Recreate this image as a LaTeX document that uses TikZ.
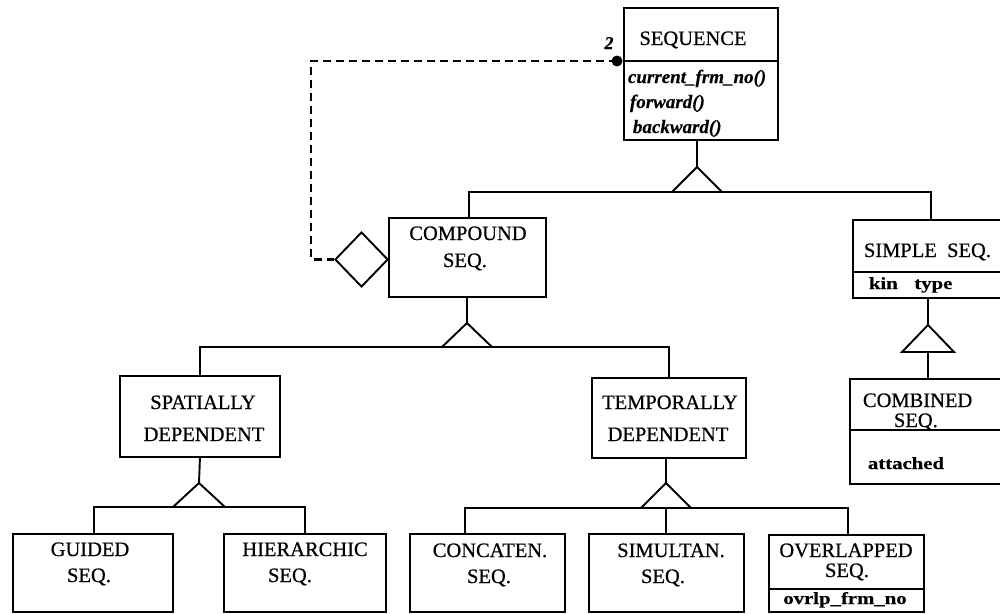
\documentclass[tikz,border=0pt]{standalone}
\usepackage{fontspec}
\setmainfont{Liberation Serif}
\newfontface\inkrm{Liberation Serif}[FakeBold=0.6]
\newfontface\inkbf{Liberation Serif Bold}[FakeBold=0.4]
\newfontface\inkbi{Liberation Serif Bold Italic}[FakeBold=0.3]
\newcommand\widetext[1]{\scalebox{1.22}[1]{#1}}
\usetikzlibrary{shapes.geometric}
\begin{document}
\begin{tikzpicture}[x=1pt,y=-1pt,line width=1.9pt,line join=miter,
  box/.style={draw,rectangle,inner sep=0pt,anchor=north west},
  lbl/.style={font=\fontsize{20.5}{24}\inkrm,inner sep=0pt,anchor=base},
  lblw/.style={lbl,anchor=base west},
  meth/.style={font=\fontsize{19}{22}\inkbi,inner sep=0pt,anchor=base west},
  attr/.style={font=\fontsize{17}{20}\inkbf,inner sep=0pt},
  dashline/.style={line width=2.6pt,dash pattern=on 8pt off 5pt},
  isa/.style={line join=miter}]
\useasboundingbox (0,0) rectangle (1000,613);
\clip (0,0) rectangle (1000,613);

% class boxes
\node[box,minimum width=154pt,minimum height=132pt] (seq)    at (623,7)   {};
\node[box,minimum width=157pt,minimum height=79pt]  (comp)   at (388,217) {};
\node[box,minimum width=158pt,minimum height=78pt]  (simple) at (852,219) {};
\node[box,minimum width=158pt,minimum height=105pt] (comb)   at (849,378) {};
\node[box,minimum width=160pt,minimum height=81pt]  (spat)   at (119,375) {};
\node[box,minimum width=154pt,minimum height=80pt]  (temp)   at (591,377) {};
\node[box,minimum width=160pt,minimum height=78pt]  (guided) at (12,533)  {};
\node[box,minimum width=162pt,minimum height=78pt]  (hier)   at (223,533) {};
\node[box,minimum width=155pt,minimum height=78pt]  (conc)   at (409,533) {};
\node[box,minimum width=155pt,minimum height=78pt]  (simu)   at (588,533) {};
\node[box,minimum width=155pt,minimum height=77pt]  (over)   at (768,534) {};

% compartment separators
\draw (seq.west |- 0,61)     -- (seq.east |- 0,61);
\draw (simple.west |- 0,272) -- (simple.east |- 0,272);
\draw (comb.west |- 0,430)   -- (comb.east |- 0,430);
\draw (over.west |- 0,589)   -- (over.east |- 0,589);

% texts
\node[lbl] at (693,45) {SEQUENCE};
\node[meth] at (627,83)  {current\_frm\_no()};
\node[meth] at (629,108) {forward()};
\node[meth] at (632,133) {backward()};

\node[lbl] at (468,240) {COMPOUND};
\node[lbl] at (465,267) {SEQ.};

\node[lblw] at (863,257) {SIMPLE\hspace{0.5em}SEQ.};
\node[attr,anchor=base west] at (868,289) {\widetext{kin\hspace{0.8em}type}};

\node[lblw] at (862,407) {COMBINED};
\node[lblw] at (893,427) {SEQ.};
\node[attr,anchor=base west] at (867,469) {\widetext{attached}};

\node[lbl] at (203,409) {SPATIALLY};
\node[lbl] at (204,441) {DEPENDENT};
\node[lbl] at (670,409) {TEMPORALLY};
\node[lbl] at (668,441) {DEPENDENT};

\node[lbl] at (90,556)  {GUIDED};
\node[lbl] at (89,582)  {SEQ.};
\node[lbl] at (305,556) {HIERARCHIC};
\node[lbl] at (290,582) {SEQ.};
\node[lbl] at (490,557) {CONCATEN.};
\node[lbl] at (489,583) {SEQ.};
\node[lbl] at (671,557) {SIMULTAN.};
\node[lbl] at (663,583) {SEQ.};
\node[lbl] at (846,557) {OVERLAPPED};
\node[lbl] at (847,577) {SEQ.};
\node[attr,anchor=base] at (845,604) {\widetext{ovrlp\_frm\_no}};

% aggregation: diamond on COMPOUND SEQ., dashed link to SEQUENCE
\node[diamond,draw,inner sep=0pt,minimum width=53pt,minimum height=55pt] (dia) at (361.5,259.5) {};
\node[circle,fill,inner sep=0pt,minimum size=11pt] (dot) at (617,61) {};
\node[font=\fontsize{18}{20}\inkbi,inner sep=0pt,anchor=base] at (609,49) {2};
\coordinate (dk1) at (311,61);
\coordinate (dk2) at (311,259.5);
\draw[dashline] (dot.center) -- (dk1) -- (dk2) -- (dia.west);

% generalisation: SEQUENCE
\coordinate (a1) at (697,167);
\coordinate (b1) at (697,192);
\draw (seq.south -| a1) -- (a1);
\draw[isa] (a1) -- ++(-25,25) -- ++(50,0) -- cycle;
\draw ([xshift=1.5pt]comp.north) |- (b1) -| ([xshift=-1pt]simple.north);

% generalisation: COMPOUND SEQ.
\coordinate (a2) at (467,323);
\coordinate (b2) at (467,347);
\draw (comp.south -| a2) -- (a2);
\draw[isa] (a2) -- ++(-25,24) -- ++(50,0) -- cycle;
\draw (spat.north) |- (b2) -| (temp.north);

% generalisation: SIMPLE SEQ.
\coordinate (a3) at (928,325);
\coordinate (b3) at (928,352);
\draw (simple.south -| a3) -- (a3);
\draw[isa] (a3) -- ++(-26,27) -- ++(52,0) -- cycle;
\draw (b3) -- (comb.north -| b3);

% generalisation: SPATIALLY DEPENDENT
\coordinate (a4) at (199,483);
\coordinate (b4) at (199,507);
\draw (spat.south) -- (a4);
\draw[isa] (a4) -- ++(-26,24) -- ++(52,0) -- cycle;
\draw ([xshift=1pt]guided.north) |- (b4) -| (hier.north);

% generalisation: TEMPORALLY DEPENDENT
\coordinate (a5) at (666,483);
\coordinate (b5) at (666,508);
\draw (temp.south -| a5) -- (a5);
\draw[isa] (a5) -- ++(-25,25) -- ++(50,0) -- cycle;
\draw ([xshift=-22.5pt]conc.north) |- (b5) -| ([xshift=1.5pt]over.north);
\draw (b5) -- (simu.north -| b5);
\end{tikzpicture}
\end{document}
